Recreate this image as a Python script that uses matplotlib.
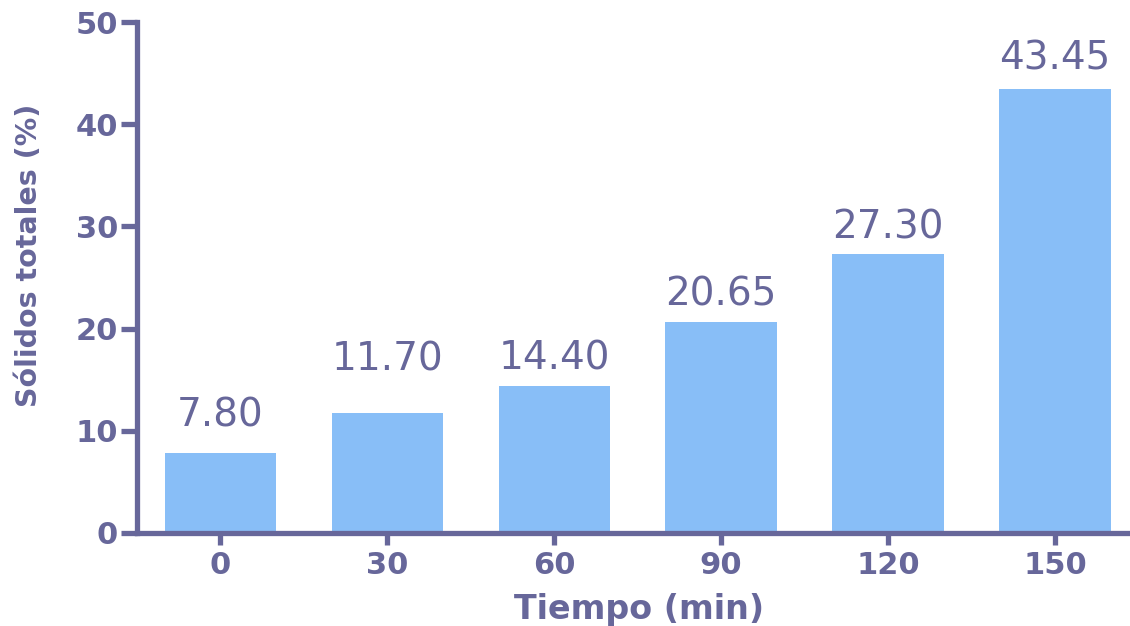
import matplotlib
matplotlib.use("Agg")
import matplotlib.pyplot as plt

# Total solids measured at each drying time
tiempos = ["0", "30", "60", "90", "120", "150"]
solidos = [7.80, 11.70, 14.40, 20.65, 27.30, 43.45]
yticks = [0, 10, 20, 30, 40, 50]

axis_color = "#67679A"
bar_color = "#88BEF7"

# Vertical gap (points) between each bar top and the baseline of its value label
label_gap_pt = [19.4, 31.0, 11.5, 12.2, 11.5, 13.7]

plt.rcParams["font.family"] = ["DejaVu Sans"]

fig = plt.figure(figsize=(11.3, 6.26), dpi=100)
ax = fig.add_axes([137 / 1130, 93 / 626, 1 - 137 / 1130, 511 / 626])

x = list(range(len(tiempos)))
ax.bar(x, solidos, width=0.667, color=bar_color, zorder=2)

# Value annotations above each bar
for xi, v, gap in zip(x, solidos, label_gap_pt):
    ax.annotate(f"{v:.2f}", (xi, v), xytext=(0, gap), textcoords="offset points",
                ha="center", va="baseline", fontsize=28, color=axis_color)

ax.set_xlim(-0.5, 5.45)
ax.set_ylim(0, 50)
ax.set_xticks(x)
ax.set_xticklabels(tiempos)
ax.set_yticks(yticks)

for side in ("top", "right"):
    ax.spines[side].set_visible(False)
for side in ("left", "bottom"):
    ax.spines[side].set_color(axis_color)
    ax.spines[side].set_linewidth(3.8)
ax.spines["left"].set_capstyle("projecting")

ax.tick_params(axis="both", colors=axis_color, width=3.8, labelsize=22)
ax.tick_params(axis="y", length=11.5, pad=2)
ax.tick_params(axis="x", length=8.3, pad=5)
for lab in ax.get_xticklabels() + ax.get_yticklabels():
    lab.set_fontweight("bold")

ax.set_xlabel("Tiempo (min)", fontsize=24, fontweight="bold", color=axis_color)
ax.xaxis.label.set_va("baseline")
ax.xaxis.set_label_coords(0.5055, -0.168)

ax.set_ylabel("Sólidos totales (%)", fontsize=20.5, fontweight="bold",
              color=axis_color)
ax.yaxis.label.set_va("center")
ax.yaxis.set_label_coords(-0.1088, 0.544)

fig.savefig("out.png", dpi=100)
